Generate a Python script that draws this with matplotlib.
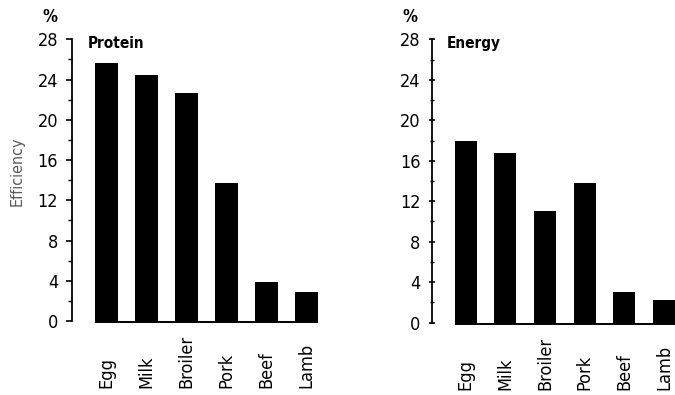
import matplotlib
matplotlib.use("Agg")
import matplotlib.pyplot as plt
from matplotlib.ticker import MultipleLocator

categories = ["Egg", "Milk", "Broiler", "Pork", "Beef", "Lamb"]
protein = [25.6, 24.5, 22.7, 13.7, 3.9, 2.9]
energy = [18.0, 16.8, 11.0, 13.8, 3.0, 2.2]
yticks = [0, 4, 8, 12, 16, 20, 24, 28]

plt.rcParams["font.family"] = ["DejaVu Sans"]
plt.rcParams["font.stretch"] = "condensed"

fig = plt.figure(figsize=(6.75, 3.95), dpi=100)
ax1 = fig.add_axes([72 / 675, 0.1873, 254.6 / 675, 0.7132])
ax2 = fig.add_axes([431.7 / 675, 0.183, 252 / 675, 0.7175])


def draw(ax, values, title, tickdir):
    x = list(range(len(categories)))
    bars = ax.bar(x, values, width=0.56, color="black", zorder=3)
    ax.set_xlim(-0.86, 5.5)
    ax.set_ylim(0, 28)
    for s in ["top", "right", "bottom"]:
        ax.spines[s].set_visible(False)
    ax.spines["left"].set_linewidth(1.3)
    ax.set_xticks([])
    ax.set_yticks(yticks)
    ax.yaxis.set_minor_locator(MultipleLocator(2))
    ax.tick_params(axis="y", which="major", direction=tickdir, length=4, width=1.2,
                   labelsize=13, pad=6)
    ax.tick_params(axis="y", which="minor", direction=tickdir, length=3, width=1.0)
    left = bars[0].get_x()
    right = bars[-1].get_x() + bars[-1].get_width()
    ax.plot([left, right], [-0.1, -0.1], color="black", lw=1.4, clip_on=False,
            zorder=2, solid_capstyle="butt")
    for xi, lab in zip(x, categories):
        ax.text(xi, -0.238, lab, transform=ax.get_xaxis_transform(), rotation=90,
                ha="center", va="bottom", fontsize=13)
    ax.text(0.06, 0.985, title, transform=ax.transAxes, fontsize=11,
            fontweight="bold", ha="left", va="center")
    ax.text(-0.086, 1.08, "%", transform=ax.transAxes, fontsize=12,
            fontweight="bold", ha="center", va="center")


draw(ax1, protein, "Protein", "out")
draw(ax2, energy, "Energy", "inout")

fig.text(17 / 675, 1 - 171 / 395, "Efficiency", rotation=90, ha="center",
         va="center", fontsize=11.5, color="#5a5a5a")

fig.savefig("out.png", dpi=100)
